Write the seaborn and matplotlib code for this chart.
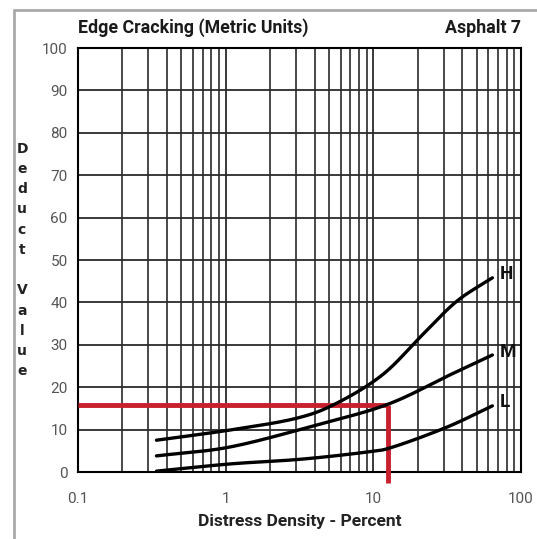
import numpy as np
import pandas as pd
import matplotlib
matplotlib.use("Agg")
import matplotlib.pyplot as plt
import seaborn as sns
from matplotlib.ticker import LogLocator, FixedLocator, NullFormatter

# ---- data ----
density_h = [0.34, 1.07, 3.04, 5.7, 11.6, 21.7, 36.8, 64.0]
deduct_h = [7.5, 9.9, 12.7, 16.3, 23.0, 32.5, 40.3, 45.8]
density_m = [0.34, 1.07, 4.14, 12.6, 33.0, 64.0]
deduct_m = [3.8, 5.9, 11.1, 16.0, 22.9, 27.6]
density_l = [0.34, 1.07, 3.2, 9.0, 13.6, 31.6, 64.0]
deduct_l = [0.2, 1.9, 3.0, 4.7, 5.9, 10.6, 15.6]
severity = ["H", "M", "L"]
example_density = 12.6
example_deduct = 15.7
title_left = "Edge Cracking (Metric Units)"
title_right = "Asphalt 7"
xlabel = "Distress Density - Percent"
ylabel = "Deduct Value"
xticks = [0.1, 1, 10, 100]
xtick_labels = ["0.1", "1", "10", "100"]
yticks = [0, 10, 20, 30, 40, 50, 60, 70, 80, 90, 100]

frames = []
for s, xs, ys in zip(severity, [density_h, density_m, density_l], [deduct_h, deduct_m, deduct_l]):
    frames.append(pd.DataFrame({"density": xs, "deduct": ys, "sev": s}))
df = pd.concat(frames, ignore_index=True)


def smooth(xs, ys):
    """Catmull-Rom spline through the read points, in log-x space."""
    pts = np.column_stack([np.log10(xs), ys])
    P = np.vstack([pts[0] - (pts[1] - pts[0]), pts, pts[-1] + (pts[-1] - pts[-2])])
    out = []
    for i in range(1, len(P) - 2):
        p0, p1, p2, p3 = P[i - 1], P[i], P[i + 1], P[i + 2]
        for t in np.linspace(0, 1, 30, endpoint=False):
            t2, t3 = t * t, t * t * t
            out.append(0.5 * ((2 * p1) + (-p0 + p2) * t + (2 * p0 - 5 * p1 + 4 * p2 - p3) * t2
                              + (-p0 + 3 * p1 - 3 * p2 + p3) * t3))
    out.append(pts[-1])
    out = np.array(out)
    return 10 ** out[:, 0], out[:, 1]


sm = []
for s in severity:
    sub = df[df.sev == s]
    x, y = smooth(sub.density.values, sub.deduct.values)
    sm.append(pd.DataFrame({"density": x, "deduct": y, "sev": s}))
dfs = pd.concat(sm, ignore_index=True)

sns.set_style("white")
plt.rcParams["font.family"] = ["Roboto", "DejaVu Sans"]

fig = plt.figure(figsize=(5.37, 5.39), dpi=100)
ax = fig.add_axes([78 / 537, 1 - 472 / 539, (521 - 78) / 537, (472 - 48) / 539])

ax.set_xscale("log")
ax.set_xlim(0.1, 100)
ax.set_ylim(0, 100)

ax.xaxis.set_major_locator(FixedLocator(xticks))
ax.xaxis.set_minor_locator(LogLocator(base=10, subs=np.arange(2, 10), numticks=20))
ax.xaxis.set_minor_formatter(NullFormatter())
ax.set_xticks(xticks)
ax.set_xticklabels(xtick_labels)
ax.set_yticks(yticks)

ax.grid(True, which="major", axis="both", color="#2a2a2a", linewidth=1.3)
ax.grid(True, which="minor", axis="x", color="#3a3a3a", linewidth=1.3)

# red example lines
ax.plot([0.1, example_density], [example_deduct, example_deduct], color="#c8202f", linewidth=3.5,
        zorder=3, solid_capstyle="butt")
ax.plot([example_density, example_density], [-2.5, example_deduct], color="#c8202f", linewidth=3.5,
        zorder=3, solid_capstyle="butt", clip_on=False)

sns.lineplot(data=dfs, x="density", y="deduct", units="sev", estimator=None, color="black",
             linewidth=2.4, ax=ax, sort=False, zorder=4)

for s, xs, ys in zip(severity, [density_h, density_m, density_l], [deduct_h, deduct_m, deduct_l]):
    ax.text(xs[-1] * 1.12, ys[-1] + 0.8, s, fontsize=13.5, fontweight="bold", ha="left", va="center",
            color="#111111")

for sp in ax.spines.values():
    sp.set_color("black")
    sp.set_linewidth(1.5)

ax.tick_params(axis="both", which="major", direction="inout", length=9, width=1.3, color="black",
               labelsize=11, labelcolor="#555555")
ax.tick_params(axis="x", which="minor", direction="inout", length=7, width=1.2, color="black")
ax.tick_params(axis="x", which="major", pad=10)
ax.tick_params(axis="y", which="major", pad=3)

ax.set_xlabel(xlabel, fontsize=12.5, fontweight="bold", color="#222222", labelpad=6)
ax.set_ylabel("")

fig.text(22 / 537, 1 - 260 / 539, "\n".join(list("Deduct")) + "\n\n" + "\n".join(list("Value")),
         fontsize=10, fontweight="bold", ha="center", va="center", linespacing=1.57, color="#222222",
         family=["DejaVu Sans"])

fig.text(78 / 537, 1 - 28 / 539, title_left, fontsize=12.8, fontweight="bold", ha="left", va="center",
         color="#1a1a1a")
fig.text(521 / 537, 1 - 28 / 539, title_right, fontsize=12.8, fontweight="bold", ha="right", va="center",
         color="#1a1a1a")

# outer frame (left and top edges)
fig.add_artist(plt.Line2D([14 / 537, 14 / 537], [0, 1 - 10 / 539], transform=fig.transFigure,
                          color="#aaaaaa", linewidth=2))
fig.add_artist(plt.Line2D([14 / 537, 1], [1 - 10 / 539, 1 - 10 / 539], transform=fig.transFigure,
                          color="#aaaaaa", linewidth=2))

fig.savefig("out.png", dpi=100)
